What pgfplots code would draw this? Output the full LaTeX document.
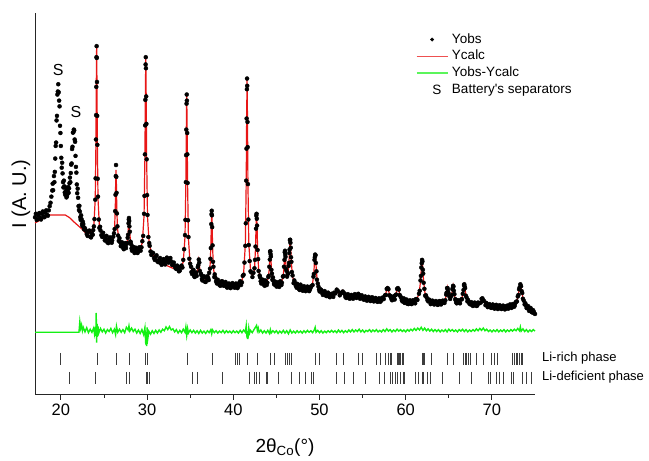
\documentclass[border=0pt]{standalone}
\usepackage{pgfplots}
\pgfplotsset{compat=1.18}
\usepackage{fontspec}
\setmainfont{Liberation Sans}
\newfontfamily\plainsans{Liberation Sans}
\definecolor{cCalc}{RGB}{232,22,22}
\definecolor{cDiff}{RGB}{20,240,20}
\definecolor{cTick}{RGB}{60,60,60}

\begin{document}
\begin{tikzpicture}
\path[use as bounding box] (0,0) rectangle (649bp,461bp);
\begin{axis}[
  at={(35bp,67bp)}, anchor=south west,
  scale only axis, width=500bp, height=381bp,
  xmin=17, xmax=75, ymin=0, ymax=100,
  axis x line*=bottom, axis y line*=left,
  axis line style={black!85, line width=0.9bp},
  xtick={20,30,40,50,60,70}, minor x tick num=1,
  ytick=\empty,
  tick align=outside, major tick length=6bp, minor tick length=4bp,
  tick style={black!85, line width=0.8bp},
  tick label style={font=\fontsize{16.5bp}{19bp}\selectfont},
  /pgf/number format/assume math mode=true,
  xlabel={2θ\textsubscript{Co}(°)},
  ylabel={I (A. U.)},
  every axis x label/.style={at={(rel axis cs:0.5,-0.14)}, anchor=center,
    font=\fontsize{19bp}{22bp}\selectfont},
  every axis y label/.style={at={(rel axis cs:-0.028,0.525)}, anchor=center,
    rotate=90, font=\fontsize{20bp}{23bp}\selectfont},
  clip=false,
  legend style={at={(0.755,0.957)}, anchor=north west, draw=none, fill=none,
    font=\fontsize{13.5bp}{16bp}\selectfont, row sep=0.7bp, column sep=2bp,
    nodes={inner sep=1.5bp, text height=10bp, text depth=3bp}},
  legend cell align=left,
]

% observed pattern (dots): main trace, then extra background points
\addplot[only marks, mark=*, mark size=2bp, black,
  legend image code/.code={\path[draw=none, fill=none] (0,0) -- (31bp,0); \fill[black] (15.5bp,0) circle[radius=1.7bp];}]
coordinates {
(17.0,46.4) (17.2,45.7) (17.4,46.9) (17.6,46.2) (17.8,47.3) (18.0,46.6) (18.2,47.6) (18.4,47.0) (18.6,48.2)
(18.8,50.2) (18.9,51.8) (19.0,53.4) (19.1,53.5) (19.2,57.2) (19.3,58.3) (19.4,65.1) (19.45,66.0) (19.5,71.8)
(19.55,73.0) (19.6,78.6) (19.65,79.4) (19.7,81.3) (19.75,79.2) (19.8,77.0) (19.85,75.5) (19.9,70.4) (19.95,68.5)
(20.0,65.1) (20.1,59.4) (20.2,57.9) (20.3,54.2) (20.4,54.5) (20.5,52.3) (20.6,53.3) (20.7,51.9) (20.8,53.5)
(20.9,52.8) (21.0,55.3) (21.1,55.6) (21.2,60.2) (21.25,60.5) (21.3,64.3) (21.35,64.9) (21.4,68.6) (21.45,68.7)
(21.5,69.4) (21.55,69.2) (21.6,66.8) (21.65,66.2) (21.7,62.5) (21.8,58.1) (21.9,52.7) (22.0,51.5) (22.1,48.3)
(22.2,47.9) (22.3,45.7) (22.4,45.9) (22.5,44.1) (22.6,44.6) (22.7,43.2) (22.8,43.5) (23.0,42.0) (23.2,42.6)
(23.4,41.3) (23.6,42.1) (23.7,41.8) (23.83,44.0) (23.9,45.9) (23.99,51.0) (24.03,56.6) (24.07,66.8) (24.09,73.2)
(24.11,80.6) (24.13,88.4) (24.15,91.3) (24.17,88.2) (24.19,81.9) (24.21,73.0) (24.23,65.4) (24.27,56.5) (24.31,51.8)
(24.4,45.8) (24.47,43.6) (24.6,42.9) (24.8,41.2) (25.0,41.4) (25.2,40.8) (25.4,39.8) (25.6,40.6) (25.8,39.9)
(25.95,40.3) (26.08,41.3) (26.16,42.2) (26.24,43.3) (26.3,48.0) (26.34,52.3) (26.37,57.2) (26.40,60.1) (26.43,57.0)
(26.46,52.8) (26.5,47.4) (26.56,44.0) (26.64,41.6) (26.72,40.2) (26.85,39.9) (27.0,39.4) (27.2,38.4) (27.4,39.0)
(27.5,38.7) (27.6,39.6) (27.7,39.5) (27.75,41.0) (27.8,41.8) (27.85,44.8) (27.88,45.8) (27.9,46.2) (27.93,45.4)
(27.95,44.0) (28.0,42.6) (28.05,40.0) (28.1,39.9) (28.2,38.2) (28.3,38.7) (28.45,37.9) (28.6,37.3) (28.8,37.8)
(29.0,37.5) (29.2,38.4) (29.35,38.5) (29.45,40.1) (29.55,41.5) (29.65,47.3) (29.7,52.0) (29.75,62.9) (29.78,70.5)
(29.8,77.2) (29.83,86.5) (29.85,88.4) (29.87,85.5) (29.9,78.1) (29.92,70.9) (29.95,61.6) (30.0,52.2) (30.05,47.0)
(30.15,41.2) (30.25,39.6) (30.4,37.4) (30.6,37.1) (30.8,35.7) (31.0,36.0) (31.2,34.8) (31.4,35.2) (31.6,34.3)
(31.8,34.8) (32.0,34.6) (32.2,34.9) (32.4,35.3) (32.6,35.0) (32.8,34.8) (33.0,33.9) (33.2,33.6) (33.4,32.8)
(33.6,33.1) (33.8,32.4) (34.0,33.7) (34.2,35.2) (34.3,38.0) (34.4,41.7) (34.45,45.7) (34.5,55.6) (34.53,62.7)
(34.55,69.4) (34.58,76.2) (34.6,78.6) (34.62,77.0) (34.65,68.5) (34.67,62.9) (34.7,55.4) (34.75,45.6) (34.8,41.2)
(34.9,35.5) (35.0,34.2) (35.15,32.0) (35.3,32.2) (35.45,31.0) (35.6,31.4) (35.76,31.0) (35.88,33.3) (35.94,33.8)
(36.0,35.3) (36.06,34.5) (36.12,32.3) (36.24,31.6) (36.36,30.2) (36.5,30.6) (36.7,29.5) (36.9,30.5) (37.1,30.4)
(37.2,31.8) (37.3,32.9) (37.35,35.5) (37.4,38.3) (37.45,44.6) (37.48,47.2) (37.5,48.1) (37.52,46.9) (37.55,43.8)
(37.6,39.0) (37.65,34.7) (37.7,33.4) (37.8,30.7) (37.9,30.6) (38.1,29.0) (38.3,29.3) (38.5,28.4) (38.7,29.6)
(38.8,29.3) (39.0,28.9) (39.2,28.2) (39.4,28.8) (39.6,28.0) (39.8,28.7) (40.0,28.5) (40.2,27.9) (40.4,28.7)
(40.6,28.3) (40.8,29.6) (41.0,29.3) (41.1,31.0) (41.2,31.3) (41.3,34.5) (41.4,38.9) (41.45,44.8) (41.5,56.0)
(41.53,64.4) (41.55,72.3) (41.58,80.0) (41.6,82.8) (41.62,80.9) (41.65,71.4) (41.67,64.8) (41.7,55.1) (41.75,45.8)
(41.8,39.1) (41.9,34.9) (42.0,32.2) (42.1,31.9) (42.22,30.7) (42.34,31.8) (42.46,33.0) (42.52,35.2) (42.58,38.7)
(42.64,43.4) (42.67,46.8) (42.7,47.3) (42.73,46.0) (42.76,44.2) (42.82,37.8) (42.88,35.4) (42.94,32.3) (43.06,31.1)
(43.18,29.6) (43.35,29.8) (43.5,29.2) (43.65,28.4) (43.82,29.4) (43.95,29.2) (44.06,30.7) (44.12,31.0) (44.18,33.4)
(44.24,35.3) (44.27,37.3) (44.3,37.5) (44.33,36.7) (44.36,36.1) (44.42,32.6) (44.48,31.6) (44.54,30.0) (44.66,29.7)
(44.78,28.7) (44.95,29.2) (45.1,28.4) (45.25,28.8) (45.4,28.6) (45.52,29.3) (45.64,29.2) (45.76,30.8) (45.82,31.0)
(45.88,33.4) (45.94,35.2) (45.97,37.2) (46.0,37.6) (46.03,36.6) (46.06,36.0) (46.12,32.8) (46.18,32.3) (46.24,30.8)
(46.3,31.4) (46.36,31.7) (46.42,33.6) (46.46,34.4) (46.5,37.0) (46.53,37.9) (46.57,40.4) (46.6,40.5) (46.63,39.7)
(46.67,38.4) (46.7,35.9) (46.74,34.7) (46.8,32.0) (46.88,31.1) (47.0,29.1) (47.16,29.2) (47.35,27.9) (47.5,28.5)
(47.7,27.3) (47.9,28.0) (48.1,27.1) (48.3,27.8) (48.5,27.3) (48.7,28.0) (48.9,27.4) (49.05,28.3) (49.2,28.6)
(49.3,30.8) (49.35,31.5) (49.42,35.2) (49.46,35.9) (49.5,36.6) (49.54,36.4) (49.58,34.4) (49.65,32.2) (49.7,30.0)
(49.8,29.0) (49.95,27.4) (50.1,27.5) (50.3,26.5) (50.5,26.7) (50.7,25.9) (50.9,26.4) (51.1,25.6) (51.3,26.2)
(51.5,25.7) (51.7,26.6) (51.85,26.4) (52.0,27.4) (52.15,27.0) (52.35,25.9) (52.55,26.6) (52.7,26.9) (52.85,26.5)
(53.0,25.5) (53.2,26.0) (53.4,25.3) (53.6,25.8) (53.8,25.2) (54.0,25.7) (54.2,25.9) (54.4,25.6) (54.6,26.0)
(54.8,25.2) (55.0,25.5) (55.2,24.8) (55.4,25.3) (55.6,24.7) (55.8,25.2) (56.0,24.6) (56.2,25.1) (56.4,24.5)
(56.6,25.0) (56.8,24.3) (57.0,24.9) (57.15,24.5) (57.3,25.3) (57.45,24.9) (57.6,25.9) (57.7,26.0) (57.8,27.6)
(57.9,27.8) (58.0,27.5) (58.1,25.9) (58.2,25.8) (58.35,24.9) (58.5,25.4) (58.65,25.0) (58.8,25.9) (58.9,26.1)
(59.0,27.6) (59.1,27.8) (59.2,27.4) (59.3,26.0) (59.4,25.6) (59.55,24.6) (59.7,24.8) (59.85,24.0) (60.0,24.5)
(60.2,23.7) (60.4,24.3) (60.6,23.7) (60.8,24.5) (61.0,24.0) (61.18,24.9) (61.36,24.7) (61.54,26.3) (61.63,27.1)
(61.72,29.8) (61.77,31.0) (61.81,33.2) (61.86,34.3) (61.9,35.2) (61.94,34.8) (61.99,32.6) (62.03,31.6) (62.08,29.2)
(62.17,27.6) (62.26,25.8) (62.44,25.3) (62.62,24.3) (62.8,24.6) (63.0,23.8) (63.2,24.2) (63.4,23.6) (63.6,24.1)
(63.8,23.5) (64.0,24.3) (64.2,23.8) (64.4,24.4) (64.6,24.6) (64.7,26.1) (64.75,26.6) (64.8,27.8) (64.85,27.8)
(64.9,27.3) (64.95,26.6) (65.05,25.7) (65.15,24.95) (65.25,25.6) (65.35,26.0) (65.42,27.5) (65.46,27.8) (65.5,28.4)
(65.54,28.2) (65.58,27.1) (65.65,26.2) (65.75,24.9) (65.85,24.1) (66.0,24.5) (66.2,24.0) (66.44,24.8) (66.53,24.9)
(66.62,26.3) (66.71,27.3) (66.76,28.6) (66.8,28.8) (66.84,28.2) (66.89,27.8) (66.98,25.8) (67.07,25.3) (67.16,24.3)
(67.3,24.3) (67.52,23.5) (67.7,23.9) (67.9,23.3) (68.1,23.8) (68.3,23.2) (68.54,23.8) (68.72,24.0) (68.81,25.0)
(68.9,25.1) (68.99,24.6) (69.08,24.4) (69.26,23.3) (69.45,23.4) (69.62,22.9) (69.8,23.3) (70.0,22.7) (70.2,23.2)
(70.4,22.6) (70.6,23.1) (70.8,22.6) (71.0,23.0) (71.2,22.5) (71.4,22.9) (71.6,22.4) (71.8,23.2) (72.0,22.8)
(72.2,23.3) (72.35,22.9) (72.5,23.4) (72.65,23.2) (72.8,24.2) (72.9,24.3) (73.0,25.6) (73.08,26.0) (73.15,27.5)
(73.22,28.0) (73.3,28.8) (73.38,28.3) (73.45,27.0) (73.52,26.5) (73.6,25.0) (73.7,24.5) (73.8,23.5) (73.95,23.3)
(74.1,22.5) (74.25,22.7) (74.4,22.0) (74.55,22.2) (74.7,21.4) (74.85,21.6) (75.0,21.0)
(17.1,47.3) (17.3,45.9) (17.5,47.5) (17.7,45.8) (17.9,47.9) (18.1,46.4) (18.3,48.2) (18.5,46.8) (18.7,49.3)
(19.05,55.2) (19.25,55.6) (19.35,61.8) (20.05,62.0) (20.15,60.7) (20.25,55.6) (20.35,56.0) (20.45,52.9) (20.55,54.2)
(20.65,51.6) (20.75,52.4) (20.85,54.3) (20.95,54.0) (21.05,56.8) (21.15,58.0) (21.75,59.6) (21.85,55.0) (21.95,53.9)
(22.05,49.3) (22.15,49.4) (22.25,46.4) (22.35,46.9) (22.45,44.6) (22.55,45.2) (22.65,43.8)
(22.9,42.9) (23.1,41.5) (23.3,42.9) (23.5,41.1) (23.75,43.0)
(24.55,43.9) (24.7,41.7) (24.9,42.3) (25.1,40.3) (25.3,41.5) (25.5,39.6) (25.7,41.1) (25.9,39.7)
(26.8,40.9) (26.95,38.8) (27.1,39.8) (27.3,38.0) (27.45,39.6) (27.55,38.3)
(28.15,39.3) (28.25,37.6) (28.4,38.6) (28.55,37.0) (28.7,38.4) (28.9,37.0) (29.1,38.5) (29.25,37.6)
(30.3,38.9) (30.5,36.5) (30.7,37.0) (30.9,35.2) (31.1,36.4) (31.3,34.6) (31.5,35.7) (31.7,33.9) (31.9,35.4)
(32.1,34.0) (32.3,35.8) (32.5,34.5) (32.7,35.7) (32.9,33.9) (33.1,34.5) (33.3,33.0) (33.5,33.7) (33.7,32.2)
(33.9,33.4) (34.1,33.2)
(35.1,33.4) (35.22,31.5) (35.38,32.6) (35.52,30.7) (35.68,31.9)
(36.3,31.2) (36.42,29.8) (36.6,30.9) (36.8,29.4) (37.0,30.9) (37.15,29.9)
(37.85,31.4) (38.0,29.6) (38.2,30.0) (38.4,28.6) (38.6,29.5) (38.9,28.4) (39.1,29.4) (39.3,27.9) (39.5,29.0)
(39.7,27.8) (39.9,29.1) (40.1,28.0) (40.3,29.0) (40.5,27.8) (40.7,29.2) (40.9,28.6)
(43.12,30.6) (43.25,29.0) (43.42,30.0) (43.58,28.6) (43.72,29.8) (43.88,28.6)
(44.6,30.6) (44.72,28.9) (44.86,29.5) (45.02,28.2) (45.18,29.3) (45.32,28.1) (45.46,29.6) (45.58,28.6)
(47.08,29.8) (47.25,28.4) (47.42,28.9) (47.6,27.6) (47.8,28.7) (48.0,27.2) (48.2,28.3) (48.4,27.0) (48.6,28.2)
(48.8,27.0) (49.0,28.0)
(49.88,28.2) (50.02,26.9) (50.2,27.3) (50.4,26.0) (50.6,27.0) (50.8,25.7) (51.0,26.6) (51.2,25.4) (51.4,26.3) (51.6,25.5)
(52.45,26.3) (52.95,26.2) (53.1,25.2) (53.3,26.2) (53.5,25.0) (53.7,26.0) (53.9,25.0) (54.1,26.2) (54.3,25.2)
(54.5,26.3) (54.7,25.0) (54.9,25.9) (55.1,24.8) (55.3,25.6) (55.5,24.5) (55.7,25.5) (55.9,24.4) (56.1,25.4)
(56.3,24.3) (56.5,25.2) (56.7,24.2) (56.9,25.1) (57.05,24.2) (57.22,25.1)
(58.28,25.4) (58.42,24.6) (58.58,25.6) (58.72,24.8)
(59.5,25.2) (59.62,24.3) (59.78,25.1) (59.92,23.9) (60.1,24.8) (60.3,23.6) (60.5,24.6) (60.7,23.6) (60.9,24.6)
(61.1,23.8) (61.27,24.9)
(62.35,25.9) (62.53,24.6) (62.7,24.8) (62.9,23.6) (63.1,24.5) (63.3,23.5) (63.5,24.4) (63.7,23.4) (63.9,24.4)
(64.1,23.5) (64.3,24.5) (64.5,23.9)
(65.8,24.6) (65.92,23.8) (66.1,24.6) (66.3,23.8)
(67.22,24.7) (67.4,23.7) (67.6,24.1) (67.8,23.1) (68.0,24.0) (68.2,23.1) (68.4,24.0)
(69.35,23.9) (69.52,22.8) (69.7,23.6) (69.9,22.6) (70.1,23.5) (70.3,22.4) (70.5,23.4) (70.7,22.3) (70.9,23.3)
(71.1,22.3) (71.3,23.2) (71.5,22.2) (71.7,23.1) (71.9,22.4) (72.1,23.5) (72.28,22.6) (72.42,23.6) (72.58,22.9) (72.72,23.9)
(73.88,23.8) (74.02,22.6) (74.18,23.1) (74.32,21.8) (74.48,22.6) (74.62,21.5) (74.78,22.0) (74.92,21.2)
};
\addlegendentry{Yobs}

% calculated pattern
\addplot[cCalc, line width=1.2bp, mark=none,
  legend image code/.code={\draw[cCalc!75, line width=0.9bp] (0,0) -- (31bp,0);}]
coordinates {
(17.0,44.9) (17.5,45.5) (18.0,46.1) (18.7,47.0) (20.5,47.0) (21.0,46.3) (21.5,45.2) (22.0,44.2) (22.5,43.2)
(22.8,42.4) (23.1,42.1) (23.5,42.3) (23.83,44.3) (23.99,51.3) (24.07,66.2) (24.11,81.3) (24.15,91.3) (24.19,81.2)
(24.23,66.1) (24.31,51.2) (24.47,44.1) (24.8,41.8) (25.2,40.6) (25.7,40.1) (26.08,40.9) (26.24,43.7) (26.32,49.9)
(26.36,56.0) (26.40,58.8) (26.44,55.5) (26.48,49.8) (26.56,43.6) (26.72,40.7) (27.0,39.2) (27.5,39.0) (27.7,39.9)
(27.8,42.2) (27.85,44.4) (27.9,46.0) (27.95,44.4) (28.0,42.1) (28.1,39.6) (28.3,38.3) (28.7,37.5) (29.1,37.6)
(29.45,39.7) (29.65,46.8) (29.75,62.3) (29.80,77.7) (29.85,88.3) (29.90,77.6) (29.95,62.1) (30.05,46.6) (30.25,39.2)
(30.6,36.7) (31.0,35.5) (32.0,34.0) (33.0,33.0) (34.0,33.4) (34.2,34.7) (34.4,41.2) (34.5,55.1) (34.55,69.0)
(34.6,78.8) (34.65,69.0) (34.7,55.0) (34.8,40.8) (35.0,33.8) (35.3,31.7) (35.52,31.0) (35.76,31.4) (35.88,32.8)
(35.94,34.1) (36.0,35.1) (36.06,34.1) (36.12,32.7) (36.24,31.2) (36.48,30.3) (36.9,30.1) (37.1,30.8) (37.3,33.2)
(37.4,38.7) (37.45,44.2) (37.5,47.9) (37.55,44.2) (37.6,38.6) (37.7,33.0) (37.9,30.2) (38.2,29.2) (38.6,28.9)
(38.75,29.7) (38.9,28.8) (39.5,28.4) (40.5,28.5) (41.0,29.7) (41.2,31.6) (41.4,39.3) (41.5,55.6) (41.55,71.8)
(41.6,82.8) (41.65,71.8) (41.7,55.6) (41.8,39.5) (42.0,32.5) (42.22,31.0) (42.46,32.7) (42.58,38.3) (42.64,43.8)
(42.7,47.5) (42.76,43.8) (42.82,38.2) (42.94,32.6) (43.18,29.9) (43.5,28.9) (43.82,29.1) (44.06,30.4) (44.18,33.0)
(44.24,35.7) (44.3,37.5) (44.36,35.7) (44.42,33.0) (44.54,30.3) (44.78,29.0) (45.2,28.6) (45.52,29.0) (45.76,30.4)
(45.88,33.0) (45.94,35.6) (46.0,37.3) (46.06,35.7) (46.12,33.2) (46.24,31.1) (46.36,32.0) (46.46,34.7) (46.53,38.2)
(46.6,40.5) (46.67,38.0) (46.74,34.35) (46.88,30.7) (47.16,28.8) (47.5,28.1) (48.0,27.5) (48.9,27.7) (49.2,28.9)
(49.35,31.85) (49.42,34.8) (49.5,36.8) (49.58,34.8) (49.65,31.8) (49.8,28.7) (50.1,27.2) (50.6,26.4) (51.2,25.9)
(51.7,26.2) (51.85,26.7) (52.0,27.5) (52.15,26.7) (52.35,26.15) (52.55,26.3) (52.7,27.1) (52.85,26.25) (53.1,25.75)
(53.6,25.5) (54.3,25.5) (55.0,25.2) (56.0,24.9) (57.0,24.6) (57.3,25.0) (57.6,25.6) (57.8,27.3) (57.9,27.95)
(58.0,27.2) (58.2,25.6) (58.5,25.1) (58.8,25.7) (59.0,27.4) (59.1,27.9) (59.2,27.2) (59.4,25.4) (59.7,24.5)
(60.0,24.2) (60.5,24.0) (61.18,24.6) (61.54,26.1) (61.72,29.5) (61.81,32.9) (61.9,35.1) (61.99,32.9) (62.08,29.5)
(62.26,26.1) (62.62,24.6) (63.2,23.9) (64.0,23.9) (64.4,24.1) (64.6,24.8) (64.75,26.5) (64.85,27.9) (64.95,26.7)
(65.15,25.1) (65.35,26.2) (65.42,27.3) (65.5,28.4) (65.58,27.3) (65.65,25.9) (65.85,24.3) (66.2,24.2) (66.44,24.55)
(66.62,26.05) (66.71,27.6) (66.8,28.65) (66.89,27.6) (66.98,26.0) (67.16,24.5) (67.52,23.7) (68.0,23.5) (68.54,23.6)
(68.72,24.2) (68.81,24.8) (68.9,25.2) (68.99,24.8) (69.08,24.15) (69.26,23.5) (69.62,23.1) (70.5,22.9) (71.5,22.7)
(72.2,23.05) (72.5,23.2) (72.8,23.95) (73.0,25.3) (73.15,27.25) (73.3,28.65) (73.45,27.2) (73.6,25.2) (73.8,23.7)
(74.1,22.7) (74.5,22.1) (75.0,21.2)
};
\addlegendentry{Ycalc}

% difference curve
\addplot[cDiff, line width=1.4bp, mark=none,
  legend image code/.code={\draw[cDiff!70, line width=1.8bp] (0,0) -- (31bp,0);}]
coordinates {
(17,16.2) (22.1,16.2) (22.2,19.0) (22.3,17.2) (22.4,18.1) (22.5,16.6) (22.6,17.5) (22.8,16.3) (23.0,17.4)
(23.2,16.1) (23.4,17.0) (23.6,16.2) (23.8,17.3) (23.9,15.8) (24.0,17.6) (24.05,15.2) (24.1,21.3) (24.15,13.5)
(24.2,18.4) (24.25,15.0) (24.3,17.8) (24.4,16.0) (24.6,17.2) (24.8,16.3) (25.0,17.0) (25.2,16.0) (25.4,16.9)
(25.6,16.4) (25.8,17.2) (26.0,16.1) (26.2,17.0) (26.35,15.6) (26.45,17.8) (26.6,16.2) (26.8,17.0) (27.0,16.2)
(27.2,16.9) (27.4,16.1) (27.6,17.5) (27.8,16.8) (27.9,17.9) (28.0,16.5) (28.2,17.3) (28.4,16.4) (28.6,17.0)
(28.8,16.0) (29.0,16.8) (29.2,15.9) (29.4,16.9) (29.6,15.6) (29.75,17.4) (29.85,13.0) (29.9,16.3) (29.95,12.6)
(30.0,17.5) (30.1,14.8) (30.2,16.5) (30.4,15.7) (30.6,16.6) (30.8,15.9) (31.0,16.7) (31.2,16.0) (31.4,16.8)
(31.6,16.2) (31.8,17.0) (32.0,16.6) (32.2,17.6) (32.4,16.9) (32.6,17.7) (32.8,16.8) (33.0,17.1) (33.2,16.3)
(33.4,16.9) (33.6,16.0) (33.8,16.7) (34.0,16.1) (34.2,17.0) (34.4,16.2) (34.5,17.6) (34.6,15.4) (34.7,17.2)
(34.8,16.0) (35.0,16.8) (35.2,16.1) (35.4,16.7) (35.6,16.0) (35.8,16.6) (36.0,15.9) (36.2,16.7) (36.4,16.0)
(36.6,16.5) (36.8,15.9) (37.0,16.6) (37.2,16.1) (37.4,16.9) (37.5,15.8) (37.6,16.8) (37.8,16.1) (38.0,16.6)
(38.2,16.0) (38.4,16.5) (38.6,16.1) (38.8,16.7) (39.0,16.0) (39.2,16.6) (39.4,16.1) (39.6,16.5) (39.8,16.0)
(40.0,16.6) (40.2,16.1) (40.4,16.5) (40.6,16.0) (40.8,16.7) (41.0,16.1) (41.2,16.8) (41.4,16.2) (41.5,17.9)
(41.6,14.6) (41.65,16.5) (41.7,14.4) (41.8,17.3) (41.9,16.0) (42.0,16.7) (42.2,16.1) (42.4,16.9) (42.6,17.6)
(42.7,18.0) (42.8,16.6) (42.9,17.3) (43.0,16.2) (43.2,16.8) (43.4,16.0) (43.6,16.6) (43.8,16.0) (44.0,16.7)
(44.2,15.9) (44.3,16.9) (44.4,16.0) (44.6,16.6) (44.8,16.1) (45.0,16.6) (45.2,15.9) (45.4,16.5) (45.6,16.0)
(45.8,16.7) (46.0,16.0) (46.2,16.6) (46.4,15.8) (46.6,16.8) (46.8,16.0) (47.0,16.5) (47.2,16.0) (47.4,16.6)
(47.6,16.1) (47.8,16.5) (48.0,16.0) (48.2,16.6) (48.4,16.1) (48.6,16.7) (48.8,16.2) (49.0,16.6) (49.2,16.1)
(49.4,16.8) (49.5,17.5) (49.6,16.2) (49.8,16.7) (50.0,16.1) (50.2,16.6) (50.4,16.0) (50.6,16.5) (50.8,16.1)
(51.0,16.6) (51.2,16.2) (51.4,16.7) (51.6,16.2) (51.8,16.6) (52.0,16.1) (52.2,16.8) (52.4,16.2) (52.6,16.7)
(52.8,16.1) (53.0,16.6) (53.2,16.2) (53.4,16.8) (53.6,16.3) (53.8,16.9) (54.0,16.3) (54.2,16.8) (54.4,16.4)
(54.6,17.0) (54.8,16.3) (55.0,16.8) (55.2,16.2) (55.4,16.7) (55.6,16.4) (55.8,16.9) (56.0,16.3) (56.2,16.8)
(56.4,16.4) (56.6,16.9) (56.8,16.3) (57.0,16.7) (57.2,16.3) (57.4,16.9) (57.6,16.4) (57.8,17.1) (58.0,16.5)
(58.2,16.9) (58.4,16.3) (58.6,16.8) (58.8,16.4) (59.0,17.0) (59.2,16.5) (59.4,16.9) (59.6,16.4) (59.8,16.8)
(60.0,16.3) (60.2,16.9) (60.4,16.5) (60.6,17.0) (60.8,16.6) (61.0,17.2) (61.2,16.7) (61.4,17.3) (61.6,16.8)
(61.8,17.5) (62.0,16.7) (62.2,17.3) (62.4,16.6) (62.6,17.1) (62.8,16.5) (63.0,17.0) (63.2,16.4) (63.4,16.9)
(63.6,16.4) (63.8,16.9) (64.0,16.3) (64.2,16.8) (64.4,16.4) (64.6,16.9) (64.8,16.3) (65.0,17.0) (65.2,16.5)
(65.4,16.9) (65.6,16.4) (65.8,16.8) (66.0,16.3) (66.2,16.9) (66.4,16.5) (66.6,17.0) (66.8,16.4) (67.0,16.9)
(67.2,16.3) (67.4,16.8) (67.6,16.4) (67.8,16.9) (68.0,16.5) (68.2,17.1) (68.4,16.6) (68.6,17.2) (68.8,16.7)
(69.0,17.3) (69.2,16.6) (69.4,17.0) (69.6,16.4) (69.8,16.8) (70.0,16.3) (70.2,16.8) (70.4,16.4) (70.6,16.9)
(70.8,16.3) (71.0,16.8) (71.2,16.4) (71.4,16.9) (71.6,16.3) (71.8,16.8) (72.0,16.4) (72.2,16.9) (72.4,16.5)
(72.6,17.0) (72.8,16.6) (73.0,17.2) (73.2,16.6) (73.3,17.6) (73.4,16.5) (73.6,17.1) (73.8,16.4) (74.0,16.9)
(74.2,16.3) (74.4,16.8) (74.6,16.4) (74.8,16.9) (75.0,16.5)
};
\addlegendentry{Yobs-Ycalc}

\addlegendimage{legend image code/.code={\path[draw=none, fill=none] (0,0) -- (31bp,0); \node[draw=none, inner sep=0pt, text height=, text depth=] at (15.5bp,0) {S};}}
\addlegendentry{{\plainsans Battery's separators}}

% Bragg positions, Li-rich phase
\addplot[forget plot, only marks, mark=|, mark size=6bp, mark options={cTick, line width=1bp}]
coordinates {
(20.0,9.2) (24.2,9.2) (26.5,9.2) (28.0,9.2) (29.8,9.2) (30.0,9.2) (34.7,9.2) (37.6,9.2) (40.3,9.2) (40.5,9.2)
(40.7,9.2) (41.7,9.2) (42.8,9.2) (44.3,9.2) (44.8,9.2) (46.0,9.2) (46.3,9.2) (46.5,9.2) (46.7,9.2) (49.5,9.2)
(50.0,9.2) (52.0,9.2) (52.8,9.2) (54.5,9.2) (55.0,9.2) (56.6,9.2) (57.1,9.2) (57.6,9.2) (58.0,9.2) (58.2,9.2)
(58.3,9.2) (59.0,9.2) (59.15,9.2) (59.3,9.2) (59.45,9.2) (59.6,9.2) (59.7,9.2) (61.9,9.2) (62.05,9.2) (62.2,9.2)
(63.0,9.2) (64.9,9.2) (65.5,9.2) (66.7,9.2) (66.9,9.2) (67.1,9.2) (67.3,9.2) (67.5,9.2) (68.2,9.2) (69.0,9.2)
(70.0,9.2) (70.35,9.2) (70.7,9.2) (72.4,9.2) (72.6,9.2) (72.8,9.2) (73.0,9.2) (73.2,9.2) (73.4,9.2) (73.6,9.2)
};
% Bragg positions, Li-deficient phase
\addplot[forget plot, only marks, mark=|, mark size=6bp, mark options={cTick, line width=1bp}]
coordinates {
(21.0,4.2) (24.0,4.2) (27.6,4.2) (28.0,4.2) (29.9,4.2) (30.05,4.2) (30.3,4.2) (35.3,4.2) (35.9,4.2) (38.7,4.2)
(41.9,4.2) (42.5,4.2) (42.7,4.2) (43.0,4.2) (43.8,4.2) (44.0,4.2) (45.3,4.2) (46.7,4.2) (47.7,4.2) (48.4,4.2)
(49.1,4.2) (49.3,4.2) (52.0,4.2) (52.9,4.2) (53.9,4.2) (55.3,4.2) (57.0,4.2) (57.5,4.2) (58.2,4.2) (58.5,4.2)
(58.8,4.2) (59.1,4.2) (59.35,4.2) (59.7,4.2) (59.9,4.2) (61.1,4.2) (61.5,4.2) (61.9,4.2) (62.1,4.2) (62.5,4.2)
(62.9,4.2) (64.3,4.2) (66.2,4.2) (67.6,4.2) (69.6,4.2) (69.8,4.2) (70.5,4.2) (70.9,4.2) (71.3,4.2) (72.3,4.2)
(72.5,4.2) (73.5,4.2) (74.0,4.2) (74.6,4.2)
};

\node[font=\fontsize{16bp}{19bp}\selectfont] at (axis cs:19.7,85.0) {S};
\node[font=\fontsize{16bp}{19bp}\selectfont] at (axis cs:21.75,74.1) {S};
\node[anchor=west, inner sep=0pt, font=\fontsize{13bp}{15bp}\selectfont] at (axis cs:75.8,9.4) {Li-rich phase};
\node[anchor=west, inner sep=0pt, font=\fontsize{13bp}{15bp}\selectfont] at (axis cs:75.8,4.5) {Li-deficient phase};

\end{axis}
\end{tikzpicture}
\end{document}
